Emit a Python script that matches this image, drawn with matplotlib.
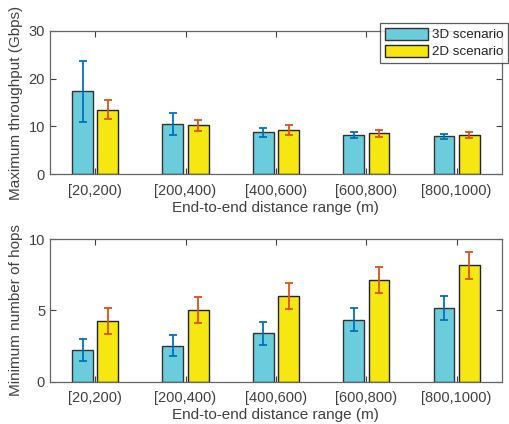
import numpy as np
import matplotlib.pyplot as plt

plt.rcParams['font.family'] = ['Liberation Sans', 'DejaVu Sans']

categories = ['[20,200)', '[200,400)', '[400,600)', '[600,800)', '[800,1000)']

# throughput (Gbps)
thr_3d = [17.3, 10.4, 8.7, 8.1, 7.9]
thr_3d_err = [6.45, 2.3, 1.0, 0.65, 0.5]
thr_2d = [13.5, 10.2, 9.2, 8.5, 8.25]
thr_2d_err = [1.95, 1.2, 1.0, 0.7, 0.6]

# hops
hops_3d = [2.22, 2.52, 3.39, 4.35, 5.16]
hops_3d_err = [0.77, 0.72, 0.82, 0.78, 0.85]
hops_2d = [4.25, 5.0, 6.0, 7.15, 8.16]
hops_2d_err = [0.92, 0.92, 0.91, 0.91, 0.95]

c3d = '#6BCCDC'
c2d = '#F5E70F'
e3d = '#0072BD'
e2d = '#D95319'
axcol = '#404040'

x = np.arange(1, len(categories) + 1)
w = 0.23
off = 0.14

fig = plt.figure(figsize=(5.1, 4.24), dpi=100)
ax1 = fig.add_axes([0.098, 0.5896, 0.886, 0.3376])
ax2 = fig.add_axes([0.098, 0.0998, 0.886, 0.3365])


def draw(ax, v3, e3, v2, e2, ylim, yticks, ylabel):
    b1 = ax.bar(x - off, v3, w, color=c3d, edgecolor='#333333', linewidth=1, label='3D scenario', zorder=2)
    b2 = ax.bar(x + off, v2, w, color=c2d, edgecolor='#222222', linewidth=1, label='2D scenario', zorder=2)
    ax.errorbar(x - off, v3, yerr=e3, fmt='none', ecolor=e3d, elinewidth=1.3, capsize=3, capthick=1.3, zorder=3)
    ax.errorbar(x + off, v2, yerr=e2, fmt='none', ecolor=e2d, elinewidth=1.3, capsize=3, capthick=1.3, zorder=3)
    ax.set_xlim(0.5, 5.5)
    ax.set_ylim(*ylim)
    ax.set_yticks(yticks)
    ax.set_xticks(x)
    ax.set_xticklabels(categories)
    ax.tick_params(direction='in', top=True, right=True, colors=axcol, labelsize=10.5, length=4, width=0.8)
    ax.tick_params(axis='x', pad=7)
    for s in ax.spines.values():
        s.set_color('#666666')
        s.set_linewidth(0.9)
    ax.set_xlabel('End-to-end distance range (m)', fontsize=11, color=axcol, labelpad=2)
    ax.set_ylabel(ylabel, fontsize=11, color=axcol, labelpad=4)
    return b1, b2


b1, b2 = draw(ax1, thr_3d, thr_3d_err, thr_2d, thr_2d_err, (0, 30), [0, 10, 20, 30], 'Maximum throughput (Gbps)')
draw(ax2, hops_3d, hops_3d_err, hops_2d, hops_2d_err, (0, 10), [0, 5, 10], 'Minimum number of hops')

leg = fig.legend([b1, b2], ['3D scenario', '2D scenario'], loc='upper right',
                 bbox_to_anchor=(0.996, 0.946), borderaxespad=0, fontsize=9.6, frameon=True,
                 fancybox=False, edgecolor='#333333', handlelength=3.2, handleheight=1.05,
                 borderpad=0.35, labelspacing=0.25, handletextpad=0.3)
leg.get_frame().set_linewidth(0.9)
for t in leg.get_texts():
    t.set_color('#222222')

fig.savefig('out.png', dpi=100)
